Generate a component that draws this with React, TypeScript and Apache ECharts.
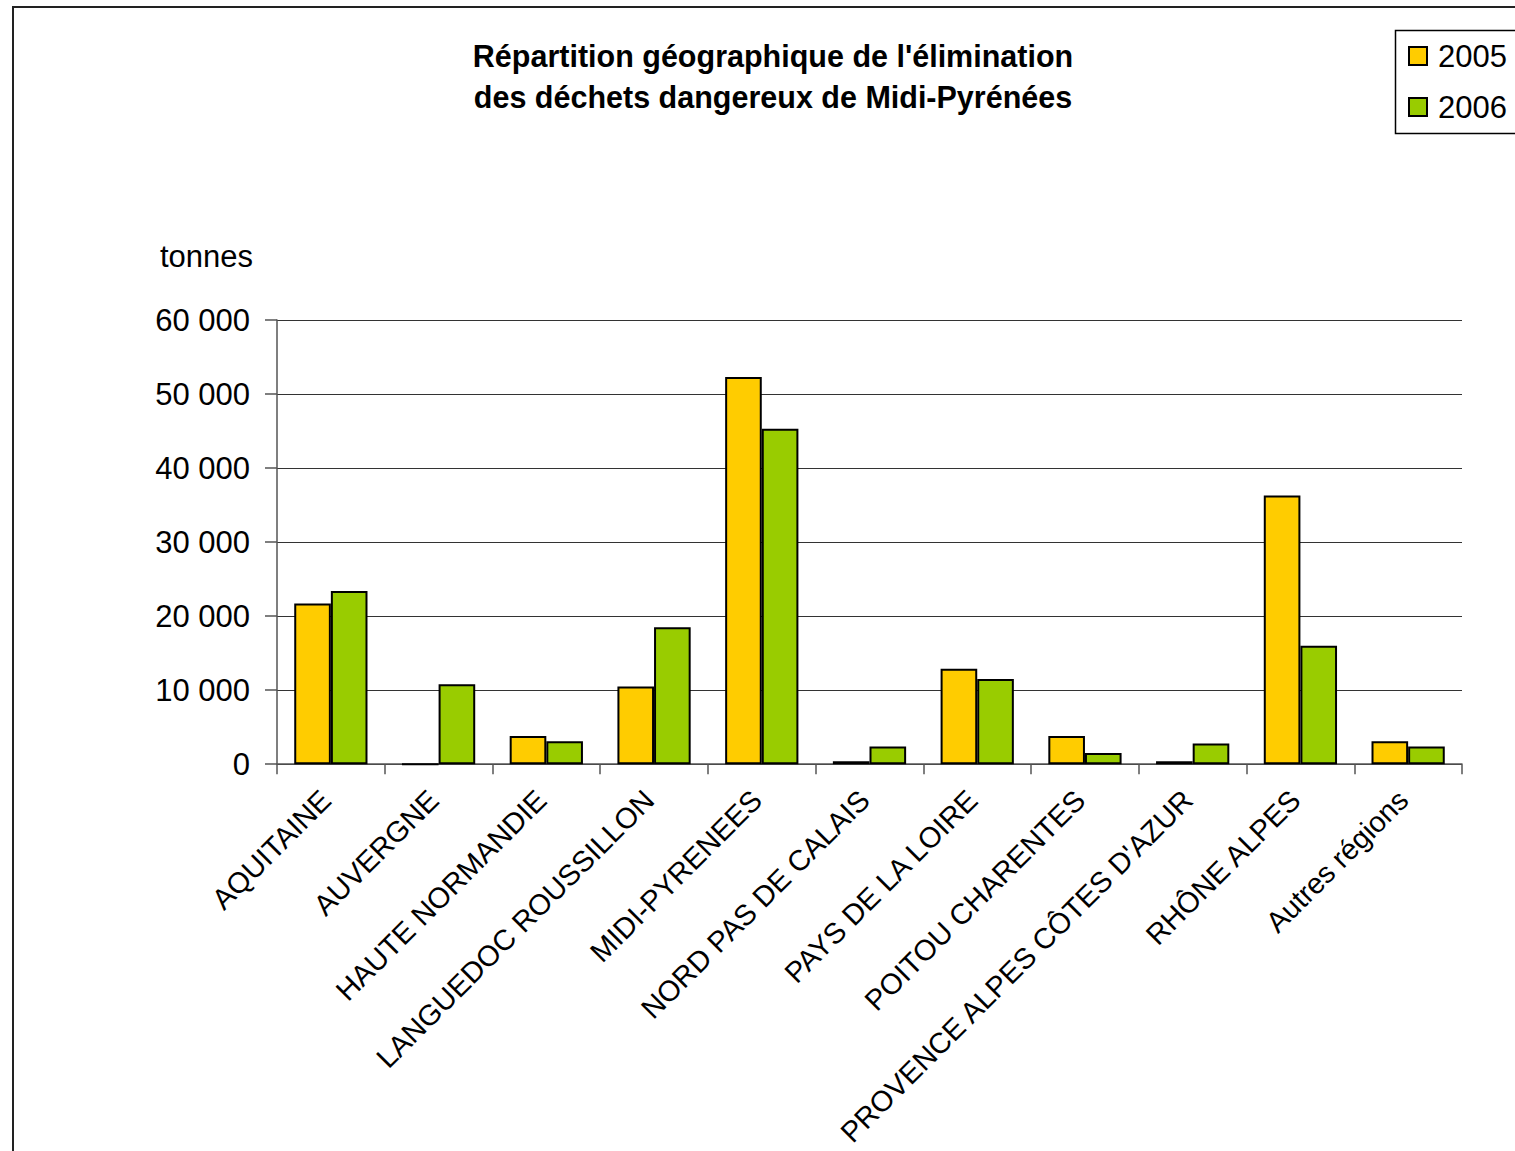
import React, { useEffect, useRef } from "react";
import * as echarts from "echarts";

const categories = [
  "AQUITAINE",
  "AUVERGNE",
  "HAUTE NORMANDIE",
  "LANGUEDOC ROUSSILLON",
  "MIDI-PYRENEES",
  "NORD PAS DE CALAIS",
  "PAYS DE LA LOIRE",
  "POITOU CHARENTES",
  "PROVENCE ALPES CÔTES D'AZUR",
  "RHÔNE ALPES",
  "Autres régions",
];
const values2005 = [21700, 0, 3800, 10500, 52300, 400, 12900, 3800, 400, 36300, 3100];
const values2006 = [23400, 10800, 3100, 18500, 45300, 2400, 11500, 1500, 2800, 16000, 2400];
const seriesNames = ["2005", "2006"];
const titleLines = [
  "Répartition géographique de l'élimination",
  "des déchets dangereux de Midi-Pyrénées",
];
const yUnit = "tonnes";

const FONT = "'Liberation Sans', Arial, sans-serif";

export default function App() {
  const ref = useRef<HTMLDivElement>(null);
  useEffect(() => {
    if (!ref.current) return;
    const chart = echarts.init(ref.current, undefined, { renderer: "svg" });
    const fmt = (v: number) => String(v).replace(/\B(?=(\d{3})+(?!\d))/g, " ");
    chart.setOption({
      animation: false,
      backgroundColor: "#ffffff",
      textStyle: { fontFamily: FONT },
      graphic: [
        {
          type: "rect",
          shape: { x: 13, y: 7, width: 1700, height: 1300 },
          style: { fill: "none", stroke: "#222", lineWidth: 2 },
          silent: true,
        },
        {
          type: "rect",
          shape: { x: 1395.5, y: 30.5, width: 140, height: 103 },
          style: { fill: "#fff", stroke: "#000", lineWidth: 1.5 },
          silent: true,
          z: 1,
        },
        {
          type: "text",
          x: 773,
          y: 35,
          style: {
            text: titleLines.join("\n"),
            align: "center",
            verticalAlign: "top",
            fontFamily: FONT,
            fontWeight: "bold",
            fontSize: 30.5,
            lineHeight: 41,
            fill: "#000",
          },
        },
      ],
      legend: {
        orient: "vertical",
        left: 1403,
        top: 35,
        itemWidth: 18,
        itemHeight: 18,
        itemGap: 19,
        icon: "rect",
        z: 5,
        itemStyle: { borderColor: "#000", borderWidth: 2 },
        textStyle: { fontFamily: FONT, fontSize: 31, lineHeight: 32, color: "#000", padding: [0, 0, 0, 6] },
        data: seriesNames,
      },
      grid: { left: 277, right: 1515 - 1462, top: 320, bottom: 1151 - 765, containLabel: false },
      xAxis: {
        type: "category",
        data: categories,
        axisLine: { lineStyle: { color: "#555", width: 1.5 } },
        axisTick: { show: true, length: 10, lineStyle: { color: "#555", width: 1.5 } },
        axisLabel: {
          interval: 0,
          rotate: 45,
          margin: 26,
          fontFamily: FONT,
          fontSize: 29,
          color: "#000",
          padding: [0, 7, 0, 0],
        },
      },
      yAxis: {
        type: "value",
        min: 0,
        max: 60000,
        interval: 10000,
        name: yUnit,
        nameLocation: "end",
        nameGap: 48,
        nameTextStyle: { fontFamily: FONT, fontSize: 31, color: "#000", align: "right", padding: [0, 24, 0, 0] },
        axisLine: { show: true, lineStyle: { color: "#555", width: 1.5 } },
        axisTick: { show: true, length: 12, lineStyle: { color: "#555", width: 1.5 } },
        axisLabel: { margin: 27, fontFamily: FONT, fontSize: 31, color: "#000", formatter: fmt },
        splitLine: { show: true, lineStyle: { color: "#333", width: 1.2 } },
      },
      series: [
        {
          name: seriesNames[0],
          type: "bar",
          data: values2005,
          barGap: "0%",
          barCategoryGap: "32%",
          itemStyle: { color: "#FFCC00", borderColor: "#000", borderWidth: 2 },
        },
        {
          name: seriesNames[1],
          type: "bar",
          data: values2006,
          barGap: "0%",
          barCategoryGap: "32%",
          itemStyle: { color: "#99CC00", borderColor: "#000", borderWidth: 2 },
        },
      ],
    });
    return () => chart.dispose();
  }, []);
  return (
    <div
      ref={ref}
      style={{ position: "fixed", left: 0, top: 0, width: 1515, height: 1151, background: "#fff" }}
    />
  );
}
